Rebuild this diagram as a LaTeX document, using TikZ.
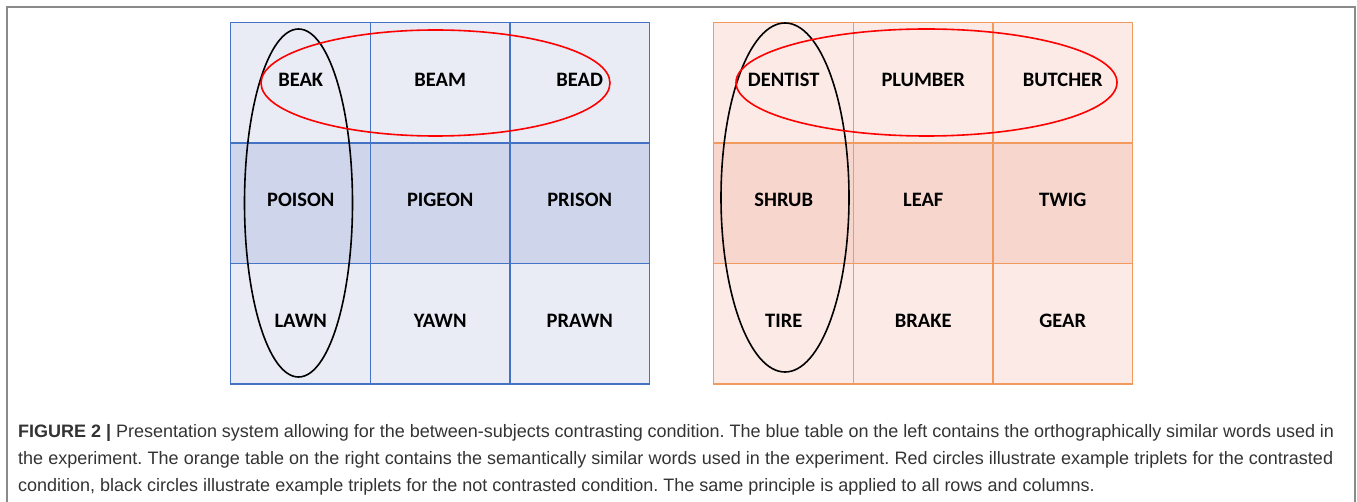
\documentclass[tikz,border=0pt]{standalone}
\usepackage{fontspec}
\setmainfont{Liberation Sans}
\newfontfamily\cellfont{Carlito}
\usetikzlibrary{positioning}
\frenchspacing

\definecolor{blueline}{HTML}{4472C4}
\definecolor{bluelight}{HTML}{E9EBF5}
\definecolor{bluemid}{HTML}{CFD5EA}
\definecolor{orangeline}{HTML}{F29A5E}
\definecolor{orangelight}{HTML}{FBEAE6}
\definecolor{orangemid}{HTML}{F7D7CD}
\definecolor{framegray}{HTML}{8A8A8A}
\definecolor{captiongray}{HTML}{333333}

\tikzset{
  cell/.style={minimum width=139.5pt, minimum height=120.3pt,
    inner sep=0pt, text height=13pt, text depth=6pt,
    font=\cellfont\bfseries\fontsize{20.5}{24}\selectfont},
  rule/.style={line width=1.3pt},
  ring/.style={line width=1.6pt},
  capline/.style={anchor=base west, inner sep=0pt, text=captiongray,
    font=\fontsize{18}{21}\selectfont}
}

\begin{document}
\begin{tikzpicture}[x=1pt,y=-1pt]
		\useasboundingbox (0,0) rectangle (1357,502);

		% Frame
		\draw[framegray, line width=1.5pt] (7,510) -- (7,7) -- (1355,7) -- (1355,510);

		% Blue table
		\foreach \r/\shade/\wa/\wb/\wc in {0/bluelight/BEAK/BEAM/BEAD,
				1/bluemid/POISON/PIGEON/PRISON, 2/bluelight/LAWN/YAWN/PRAWN} {
				\node[cell, fill=\shade] (b\r0) at (300.75,{83.2+120.3*\r}) {\wa};
				\node[cell, fill=\shade] (b\r1) at (440.25,{83.2+120.3*\r}) {\wb};
				\node[cell, fill=\shade] (b\r2) at (579.75,{83.2+120.3*\r}) {\wc};
			}

		% Orange table
		\foreach \r/\shade/\wa/\wb/\wc in {0/orangelight/DENTIST/PLUMBER/BUTCHER,
				1/orangemid/SHRUB/LEAF/TWIG, 2/orangelight/TIRE/BRAKE/GEAR} {
				\node[cell, fill=\shade] (o\r0) at (783.75,{83.2+120.3*\r}) {\wa};
				\node[cell, fill=\shade] (o\r1) at (923.25,{83.2+120.3*\r}) {\wb};
				\node[cell, fill=\shade] (o\r2) at (1062.75,{83.2+120.3*\r}) {\wc};
			}

		% Cell borders
		\foreach \r in {0,1,2} {
				\foreach \c in {0,1,2} {
						\draw[rule, blueline] (b\r\c.north west) rectangle (b\r\c.south east);
						\draw[rule, orangeline] (o\r\c.north west) rectangle (o\r\c.south east);
					}
			}

		% Circles
		\draw[ring, black] (298.5,203) ellipse [x radius=54, y radius=174];
		\draw[ring, red] (435.5,83) ellipse [x radius=174.5, y radius=53];
		\draw[ring, black] (785,197.5) ellipse [x radius=64, y radius=174.5];
		\draw[ring, red] (926.5,82.5) ellipse [x radius=190.5, y radius=53.5];

		% Caption
		\node[capline] (cap1) at (18,437) {\makebox[1316pt][s]{\textbf{FIGURE 2 |} Presentation system allowing for the between-subjects contrasting condition. The blue table on the left contains the orthographically similar words used in}};
		\node[capline] (cap2) at (18,464) {\makebox[1315pt][s]{the experiment. The orange table on the right contains the semantically similar words used in the experiment. Red circles illustrate example triplets for the contrasted}};
		\node[capline] (cap3) at (18,491) {condition, black circles illustrate example triplets for the not contrasted condition. The same principle is applied to all rows and columns.};
	\end{tikzpicture}
\end{document}
